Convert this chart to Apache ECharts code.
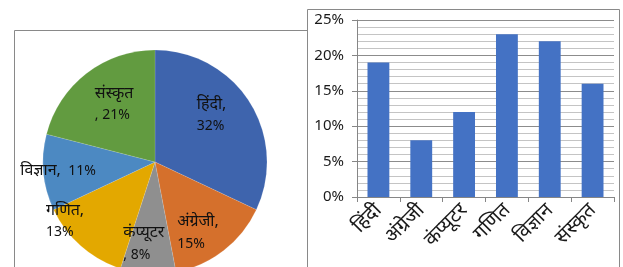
<!DOCTYPE html>
<html>
<head>
<meta charset="utf-8">
<script src="https://cdn.jsdelivr.net/npm/echarts@6/dist/echarts.min.js"></script>
<style>html,body{margin:0;padding:0;background:#fff}#c{width:623px;height:267px}</style>
</head>
<body>
<div id="c"></div>
<script>
// Pie data (share of students)
var pieNames = ['हिंदी', 'अंग्रेजी', 'कंप्यूटर', 'गणित', 'विज्ञान', 'संस्कृत'];
var pieValues = [32, 15, 8, 13, 11, 21];
var pieLabels = ['हिंदी,\n32%', 'अंग्रेजी,\n15%', 'कंप्यूटर\n, 8%', 'गणित,\n13%', 'विज्ञान,  11%', 'संस्कृत\n, 21%'];
// Bar data
var barCategories = ['हिंदी', 'अंग्रेजी', 'कंप्यूटर', 'गणित', 'विज्ञान', 'संस्कृत'];
var barValues = [19, 8, 12, 23, 22, 16];
var yTicks = [0, 5, 10, 15, 20, 25];

var pieColors = ['#3E64AD', '#D5702C', '#8F8F8F', '#E3A800', '#4C89C2', '#629B40'];
// label offsets (style only) relative to library-computed inside anchor
var labelOffsets = [[-8, -37], [-14, 2], [-28, 1], [-70, -7], [-76, -8], [-24, -33]];

var FONT = '"Noto Sans", "Liberation Sans", sans-serif';

function richWrap(s) {
  return s.split('\n').map(function (line) {
    return line.split(/([\u0900-\u097F]+,?)/).filter(function (t) { return t.length; }).map(function (t) {
      return /[\u0900-\u097F]/.test(t) ? '{d|' + t + '}' : '{n|' + t + '}';
    }).join('');
  }).join('\n');
}

var chart = echarts.init(document.getElementById('c'), null, {renderer: 'canvas'});
chart.setOption({
  animation: false,
  graphic: [
    {type: 'rect', z: -20, shape: {x: 14.5, y: 30.5, width: 330, height: 300}, style: {fill: '#fff', stroke: '#898989', lineWidth: 1}},
    {type: 'rect', z: -10, shape: {x: 307.5, y: 9.5, width: 312, height: 300}, style: {fill: '#fff', stroke: '#898989', lineWidth: 1}}
  ],
  grid: {left: 357, right: 9, top: 20, bottom: 70},
  xAxis: {
    type: 'category',
    data: barCategories,
    axisLine: {lineStyle: {color: '#868686'}},
    axisTick: {show: true, alignWithLabel: false, length: 5, lineStyle: {color: '#868686'}},
    axisLabel: {rotate: 45, fontSize: 20, color: '#1a1a1a', fontFamily: FONT, margin: 10, interval: 0}
  },
  yAxis: {
    type: 'value', min: 0, max: 25, interval: 5,
    axisLine: {show: true, lineStyle: {color: '#868686'}},
    axisTick: {show: true, length: 5, lineStyle: {color: '#868686'}},
    axisLabel: {formatter: '{value}%', fontSize: 15, color: '#1a1a1a', fontFamily: FONT, margin: 13},
    splitLine: {lineStyle: {color: '#8C8C8C'}},
    minorTick: {show: false, splitNumber: 5},
    minorSplitLine: {show: true, lineStyle: {color: '#C4C4C4'}}
  },
  series: [
    {
      type: 'bar', data: barValues, barWidth: '51%',
      itemStyle: {color: '#4472C4'}
    },
    {
      type: 'pie',
      center: [155, 162], radius: 112,
      startAngle: 90, clockwise: true,
      data: pieNames.map(function (n, i) { return {name: n, value: pieValues[i], itemStyle: {color: pieColors[i]}}; }),
      itemStyle: {borderColor: 'rgba(255,255,255,0.25)', borderWidth: 0.5},
      label: {
        show: true, position: 'inside', color: '#111', fontFamily: FONT, lineHeight: 22,
        formatter: function (p) { return richWrap(pieLabels[p.dataIndex]); },
        rich: {
          d: {fontSize: 16, fontFamily: FONT, color: '#111', lineHeight: 22},
          n: {fontSize: 14, fontFamily: FONT, color: '#111', lineHeight: 22}
        }
      },
      labelLine: {show: false},
      labelLayout: function (p) {
        var o = labelOffsets[p.dataIndex];
        return {dx: o[0], dy: o[1], align: 'left', verticalAlign: 'top'};
      },
      emphasis: {disabled: true}
    }
  ]
});
</script>
</body>
</html>
